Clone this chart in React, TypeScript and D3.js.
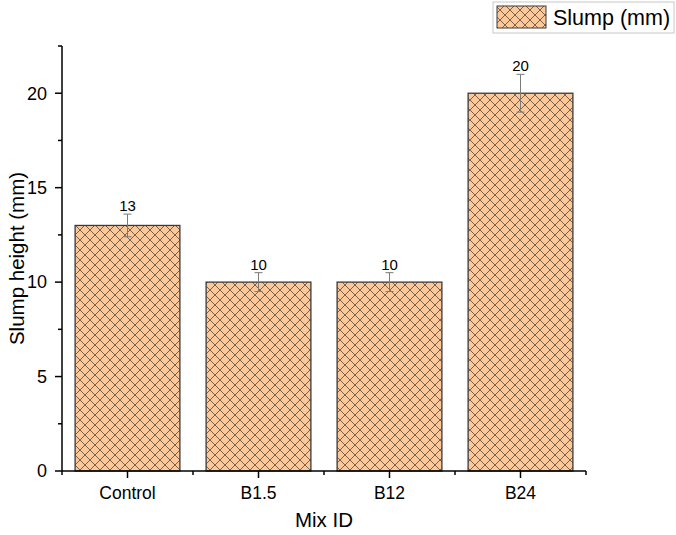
import React from "react";
import * as d3 from "d3";

const categories = ["Control", "B1.5", "B12", "B24"];
const values = [13, 10, 10, 20];
const errors = [0.6, 0.5, 0.5, 1.0];
const yMajorTicks = [0, 5, 10, 15, 20];
const yMinorTicks = [2.5, 7.5, 12.5, 17.5, 22.5];
const seriesName = "Slump (mm)";
const xTitle = "Mix ID";
const yTitle = "Slump height (mm)";

const W = 676;
const H = 535;
const FONT = "'Liberation Sans', Arial, sans-serif";
const FILL = "#FDC898";
const HATCH = "#6a5848";
const BORDER = "#3a3a3a";

export default function App() {
  const x = d3.scaleBand<string>().domain(categories).range([62, 586]).paddingInner(0.2).paddingOuter(0.1);
  const y = d3.scaleLinear().domain([0, 22.5]).range([471, 46]);
  const x0 = 62;
  const y0 = y(0);
  const step = x.step();
  const minorX = d3.range(categories.length + 1).map((i) => x0 + i * step);

  return (
    <svg width={W} height={H} style={{ position: "absolute", left: 0, top: 0, background: "#fff" }} fontFamily={FONT}>
      <defs>
        <pattern id="hatch" patternUnits="userSpaceOnUse" width={10} height={10}>
          <rect width={10} height={10} fill={FILL} />
          <path d="M-1,-1 L11,11 M-1,11 L11,-1" stroke={HATCH} strokeWidth={0.9} />
        </pattern>
      </defs>

      {/* bars */}
      {categories.map((c, i) => (
        <rect
          key={c}
          x={x(c)!}
          y={y(values[i])}
          width={x.bandwidth()}
          height={y0 - y(values[i])}
          fill="url(#hatch)"
          stroke={BORDER}
          strokeWidth={1.3}
        />
      ))}

      {/* error bars */}
      {categories.map((c, i) => {
        const cx = x(c)! + x.bandwidth() / 2;
        const top = y(values[i] + errors[i]);
        const bot = y(values[i] - errors[i]);
        return (
          <g key={c} stroke="#7a7a7a" strokeWidth={1}>
            <line x1={cx} x2={cx} y1={top} y2={bot} />
            <line x1={cx - 4} x2={cx + 4} y1={top} y2={top} />
            <line x1={cx - 4} x2={cx + 4} y1={bot} y2={bot} />
          </g>
        );
      })}

      {/* value labels */}
      {categories.map((c, i) => (
        <text
          key={c}
          x={x(c)! + x.bandwidth() / 2}
          y={y(values[i] + errors[i]) - 3}
          textAnchor="middle"
          fontSize={15}
          fill="#000"
        >
          {values[i]}
        </text>
      ))}

      {/* y axis */}
      <line x1={x0} x2={x0} y1={y(22.5)} y2={y0} stroke="#000" strokeWidth={1.5} />
      {yMajorTicks.map((t) => (
        <g key={t}>
          <line x1={x0 - 7} x2={x0} y1={y(t)} y2={y(t)} stroke="#000" strokeWidth={1.5} />
          <text x={47} y={y(t)} dy="0.35em" textAnchor="end" fontSize={18} fill="#000">
            {t}
          </text>
        </g>
      ))}
      {yMinorTicks.map((t) => (
        <line key={t} x1={x0 - 4} x2={x0} y1={y(t)} y2={y(t)} stroke="#000" strokeWidth={1.5} />
      ))}

      {/* x axis */}
      <line x1={x0} x2={586} y1={y0} y2={y0} stroke="#000" strokeWidth={1.5} />
      {categories.map((c) => {
        const cx = x(c)! + x.bandwidth() / 2;
        return (
          <g key={c}>
            <line x1={cx} x2={cx} y1={y0} y2={y0 + 7} stroke="#000" strokeWidth={1.5} />
            <text x={cx} y={y0 + 28} textAnchor="middle" fontSize={17.5} fill="#000">
              {c}
            </text>
          </g>
        );
      })}
      {minorX.map((mx, i) => (
        <line key={i} x1={mx} x2={mx} y1={y0} y2={y0 + 4} stroke="#000" strokeWidth={1.5} />
      ))}

      {/* axis titles */}
      <text x={324} y={527} textAnchor="middle" fontSize={20.5} fill="#000">
        {xTitle}
      </text>
      <text
        transform={`translate(24, ${(y(0) + y(22.5)) / 2}) rotate(-90)`}
        textAnchor="middle"
        fontSize={20.5}
        fill="#000"
      >
        {yTitle}
      </text>

      {/* legend */}
      <rect x={493} y={2} width={181} height={31} fill="#fff" stroke="#c8c8c8" strokeWidth={1} />
      <rect x={497} y={6} width={49} height={22} fill="url(#hatch)" stroke={BORDER} strokeWidth={1} />
      <text x={553} y={25} fontSize={21.5} fill="#000">
        {seriesName}
      </text>
    </svg>
  );
}
